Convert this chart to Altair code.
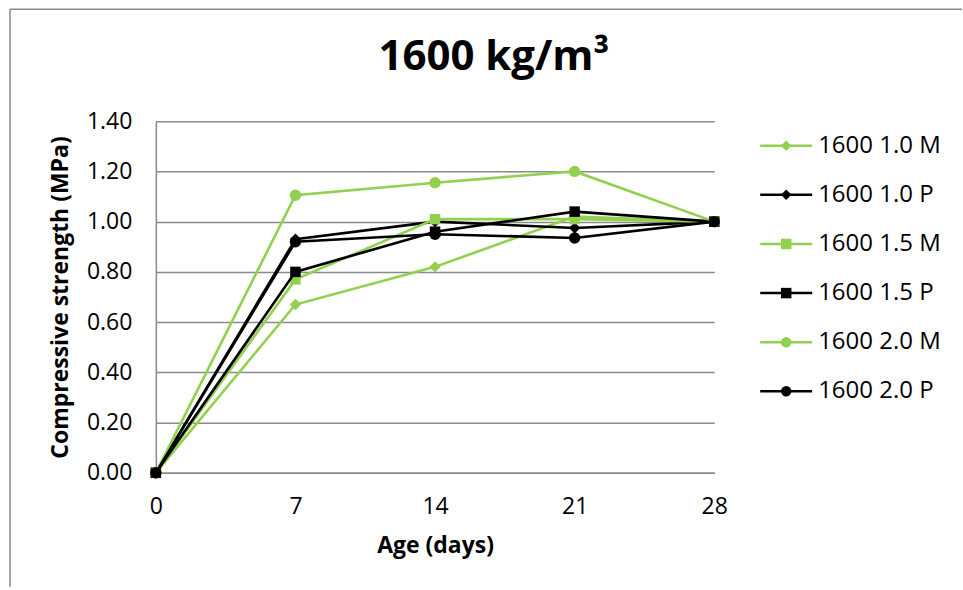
import altair as alt
import pandas as pd

# ---- data ----
days = [0, 7, 14, 21, 28]
series_names = ["1600 1.0 M", "1600 1.0 P", "1600 1.5 M", "1600 1.5 P", "1600 2.0 M", "1600 2.0 P"]
s_10M = [0.00, 0.67, 0.82, 1.02, 1.00]
s_10P = [0.00, 0.93, 1.00, 0.975, 1.00]
s_15M = [0.00, 0.77, 1.01, 1.01, 1.00]
s_15P = [0.00, 0.80, 0.96, 1.04, 1.00]
s_20M = [0.00, 1.105, 1.155, 1.20, 1.00]
s_20P = [0.00, 0.92, 0.95, 0.935, 1.00]
y_ticks = [0.0, 0.2, 0.4, 0.6, 0.8, 1.0, 1.2, 1.4]

series_values = [s_10M, s_10P, s_15M, s_15P, s_20M, s_20P]
series_colors = ["#92D050", "#000000", "#92D050", "#000000", "#92D050", "#000000"]
series_shapes = ["diamond", "diamond", "square", "square", "circle", "circle"]
series_sizes = [130, 130, 110, 110, 130, 130]

rows = []
for name, vals in zip(series_names, series_values):
    for d, v in zip(days, vals):
        rows.append({"series": name, "day": d, "value": v})
df = pd.DataFrame(rows)

FONT = "Open Sans"
GRID = "#8a8a8a"

color = alt.Color("series:N", scale=alt.Scale(domain=series_names, range=series_colors), legend=None)
shape = alt.Shape("series:N", scale=alt.Scale(domain=series_names, range=series_shapes), legend=None)

x_enc = alt.X(
    "day:Q",
    scale=alt.Scale(domain=[0, 28], nice=False, zero=False),
    axis=alt.Axis(
        values=days, title="Age (days)", grid=False, ticks=False, tickSize=0,
        labelPadding=23, titlePadding=16, labelFontSize=23, titleFontSize=23,
        labelFont=FONT, titleFont=FONT, titleFontWeight="bold", labelColor="black",
        titleColor="black", domainColor=GRID, domainWidth=1.5, labelFlush=False,
    ),
)
y_enc = alt.Y(
    "value:Q",
    scale=alt.Scale(domain=[0, 1.4], nice=False),
    axis=alt.Axis(
        values=y_ticks, format=".2f", title="Compressive strength (MPa)", grid=True,
        gridColor=GRID, gridWidth=1.5, ticks=False, tickSize=0, labelPadding=24,
        titlePadding=14, labelFontSize=23, titleFontSize=23, labelFont=FONT,
        titleFont=FONT, titleFontWeight="bold", labelColor="black", titleColor="black",
        domainColor=GRID, domainWidth=1.5,
    ),
)

layers = []
for name, col, shp, sz in zip(series_names, series_colors, series_shapes, series_sizes):
    sub = alt.Chart(df).transform_filter(alt.datum.series == name)
    layers.append(sub.mark_line(strokeWidth=2.6).encode(x=x_enc, y=y_enc, color=color))
    layers.append(
        sub.mark_point(filled=True, size=sz, opacity=1).encode(x=x_enc, y=y_enc, color=color, shape=shape)
    )

main = alt.layer(*layers).properties(
    width=559,
    height=352,
    title=alt.TitleParams(
        "1600 kg/m³", font=FONT, fontSize=42, fontWeight="bold", color="black",
        anchor="middle", frame="group", dx=59, offset=-2, baseline="alphabetic",
    ),
)

# ---- legend panel ----
leg_df = pd.DataFrame({"series": series_names})
ly = alt.Y("series:N", scale=alt.Scale(type="point", domain=series_names, padding=0.5), axis=None)
leg_base = alt.Chart(leg_df)
leg_rule = leg_base.mark_rule(strokeWidth=2.5).encode(x=alt.value(0), x2=alt.value(52), y=ly, color=color)
leg_pt = leg_base.mark_point(filled=True, size=110, opacity=1).encode(x=alt.value(26), y=ly, color=color, shape=shape)
leg_txt = leg_base.mark_text(align="left", baseline="middle", font=FONT, fontSize=24, color="black").encode(
    x=alt.value(58), y=ly, text="series:N"
)
# chart frame (drawn from the legend panel so it does not affect the main title)
frame_df = pd.DataFrame({"a": [0]})
frame_left = alt.Chart(frame_df).mark_rule(color=GRID, strokeWidth=1.5).encode(
    x=alt.value(-751), y=alt.value(-112), y2=alt.value(466)
)
frame_top = alt.Chart(frame_df).mark_rule(color=GRID, strokeWidth=1.5).encode(
    x=alt.value(-751), x2=alt.value(202), y=alt.value(-112)
)
legend = alt.layer(frame_left, frame_top, leg_rule, leg_pt, leg_txt).properties(width=203, height=295)

chart = (
    alt.hconcat(main, legend, spacing=46)
    .properties(bounds="flush", padding={"left": 9, "top": 8, "right": 0, "bottom": 0}, background="white")
    .resolve_scale(color="shared", shape="shared")
    .configure(font=FONT)
    .configure_view(strokeWidth=0, stroke="transparent")
)

chart.save("out.html", embed_options={"renderer": "svg", "actions": False})
